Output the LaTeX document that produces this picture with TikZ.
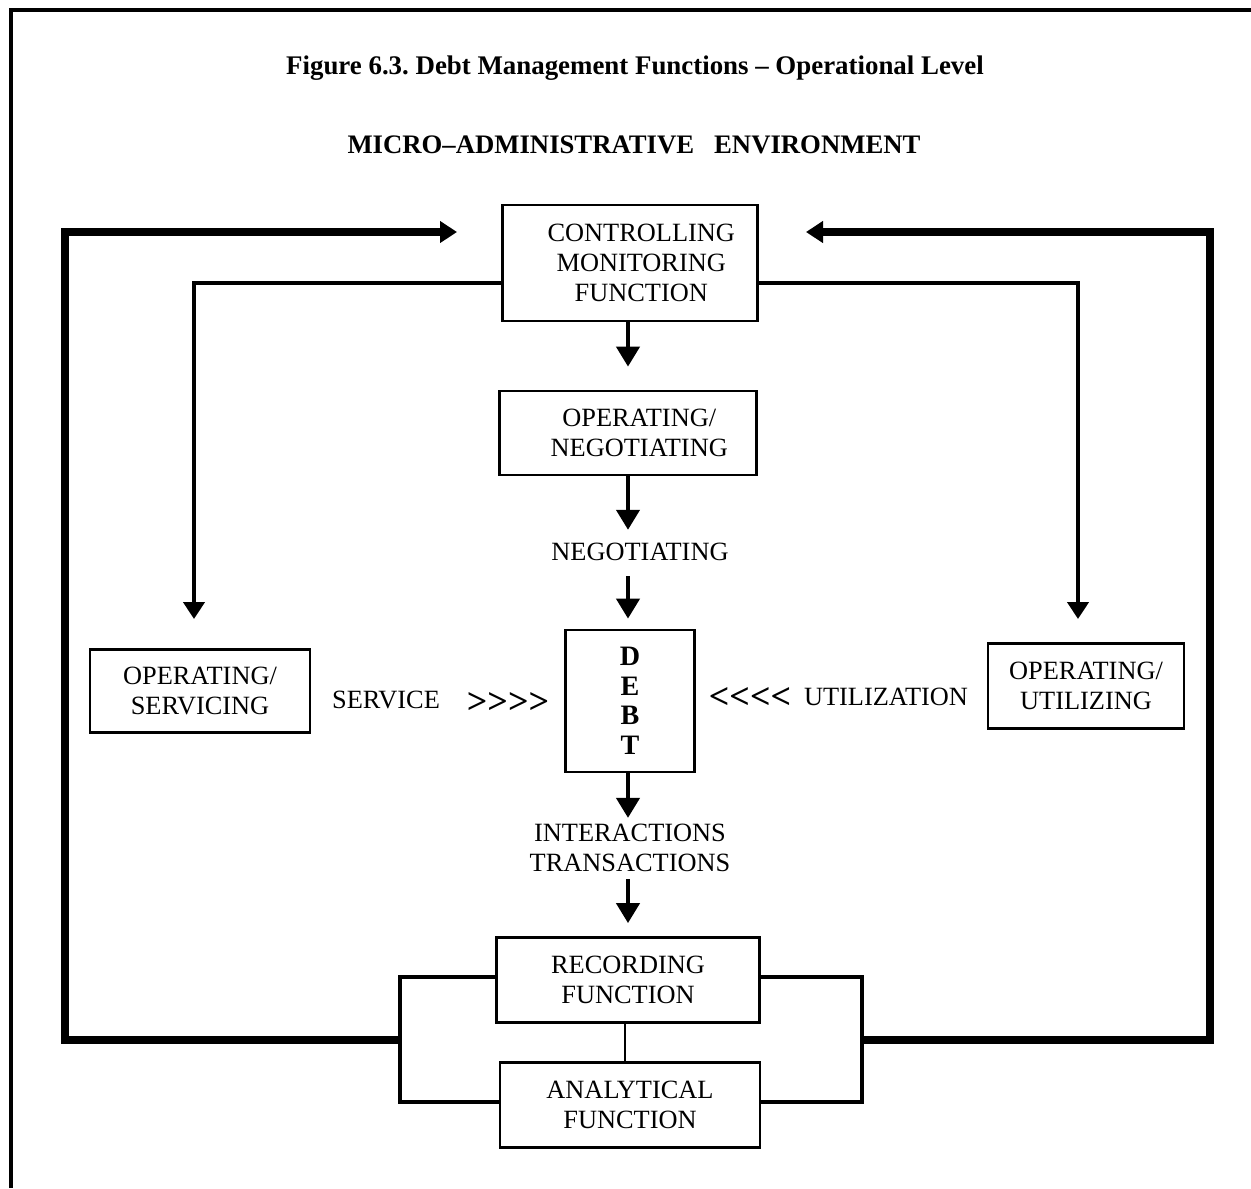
\documentclass[tikz,border=0pt]{standalone}
\usepackage{fontspec}
\setmainfont{Liberation Serif}
\usetikzlibrary{arrows.meta}
\frenchspacing
\begin{document}
\begin{tikzpicture}[x=0.02cm,y=-0.02cm,
  box/.style={draw,line width=1.6pt,align=center,inner sep=0pt,
    font=\fontsize{15}{17}\selectfont},
  label/.style={align=center,inner sep=0pt,font=\fontsize{15}{17}\selectfont},
  chevrons/.style={align=center,inner sep=0pt,font=\bfseries\fontsize{20.5}{22}\selectfont},
  downarrow/.style={line width=2.4pt,-{Triangle[length=0.4cm,width=0.46cm]}},
  sidearrow/.style={line width=2.8pt,line join=miter,-{Triangle[length=0.34cm,width=0.42cm]}},
  looparrow/.style={line width=4.2pt,line join=miter,-{Triangle[length=0.34cm,width=0.42cm]}},
  bracketline/.style={line width=2.6pt,line join=miter},
  frameline/.style={line width=2.8pt,line join=miter}]
\useasboundingbox (0,0) rectangle (1251,1188);

% page frame
\draw[frameline] (11,1188) -- (11,10) -- (1251,10);

% headings
\node[inner sep=0pt,font=\bfseries\fontsize{15.3}{18}\selectfont] (title) at (635,68)
  {Figure 6.3. Debt Management Functions -- Operational Level};
\node[inner sep=0pt,font=\bfseries\fontsize{15.2}{18}\selectfont] (env) at (634,145)
  {MICRO--ADMINISTRATIVE\ \ \ ENVIRONMENT};

% boxes
\node[box,minimum width=5.1cm,minimum height=2.32cm] (ctrl) at (630,263)
  {\hspace*{0.45cm}CONTROLLING\\\hspace*{0.45cm}MONITORING\\\hspace*{0.45cm}FUNCTION};
\node[box,minimum width=5.14cm,minimum height=1.68cm] (neg) at (628,433)
  {\hspace*{0.45cm}OPERATING/\\\hspace*{0.45cm}NEGOTIATING};
\node[box,minimum width=2.58cm,minimum height=2.84cm,font=\bfseries\fontsize{16}{16.8}\selectfont] (debt) at (630,701)
  {D\\E\\B\\T};
\node[box,minimum width=5.26cm,minimum height=1.7cm] (rec) at (628,980)
  {RECORDING\\FUNCTION};
\node[box,minimum width=5.2cm,minimum height=1.7cm] (ana) at (630,1105)
  {ANALYTICAL\\FUNCTION};
\node[box,minimum width=4.4cm,minimum height=1.66cm] (serv) at (200,691)
  {OPERATING/\\SERVICING};
\node[box,minimum width=3.92cm,minimum height=1.7cm] (util) at (1086,686)
  {OPERATING/\\UTILIZING};

% free labels
\node[label] (negtxt) at (640,552) {NEGOTIATING};
\node[label] (intxt) at (630,848) {INTERACTIONS\\TRANSACTIONS};
\node[label] (service) at (386,700) {SERVICE};
\node[chevrons] (gt) at (508,703) {>\kern0pt>\kern0pt>\kern0pt>};
\node[chevrons] (lt) at (750,698) {<\kern0pt<\kern0pt<\kern0pt<};
\node[label] (utiltxt) at (886,697) {UTILIZATION};

% central flow, all on one vertical axis
\coordinate (axis) at (628,0);
\draw[downarrow,shorten >=0.46cm] (ctrl.south -| axis) -- (neg.north -| axis);
\draw[downarrow,shorten >=0.26cm] (neg.south -| axis) -- (negtxt.north -| axis);
\draw[downarrow,shorten <=0.3cm,shorten >=0.2cm] (negtxt.south -| axis) -- (debt.north -| axis);
\draw[downarrow,shorten >=0.12cm] (debt.south -| axis) -- (intxt.north -| axis);
\draw[downarrow,shorten <=0.14cm,shorten >=0.26cm] (intxt.south -| axis) -- (rec.north -| axis);
\draw[line width=1.6pt] (rec.south -| 625,0) -- (ana.north -| 625,0);

% recording / analytical brackets
\coordinate (lbr) at (400,1040);
\coordinate (rbr) at (862,1040);
\draw[bracketline] (rec.west |- 0,977) -- (400,977) -- (400,1102) -- (ana.west |- 0,1102);
\draw[bracketline] (rec.east |- 0,977) -- (862,977) -- (862,1102) -- (ana.east |- 0,1102);

% feedback loops back to control
\coordinate (ltip) at (457,232);
\coordinate (rtip) at (806,232);
\draw[looparrow] (lbr) -- (65,1040) -- (65,232) -- (ltip);
\draw[looparrow] (rbr) -- (1210,1040) -- (1210,232) -- (rtip);

% control to operating sides
\coordinate (stip) at (194,619);
\coordinate (utip) at (1078,619);
\draw[sidearrow] (ctrl.west |- 0,283) -- (194,283) -- (stip);
\draw[sidearrow] (ctrl.east |- 0,283) -- (1078,283) -- (utip);
\end{tikzpicture}
\end{document}
